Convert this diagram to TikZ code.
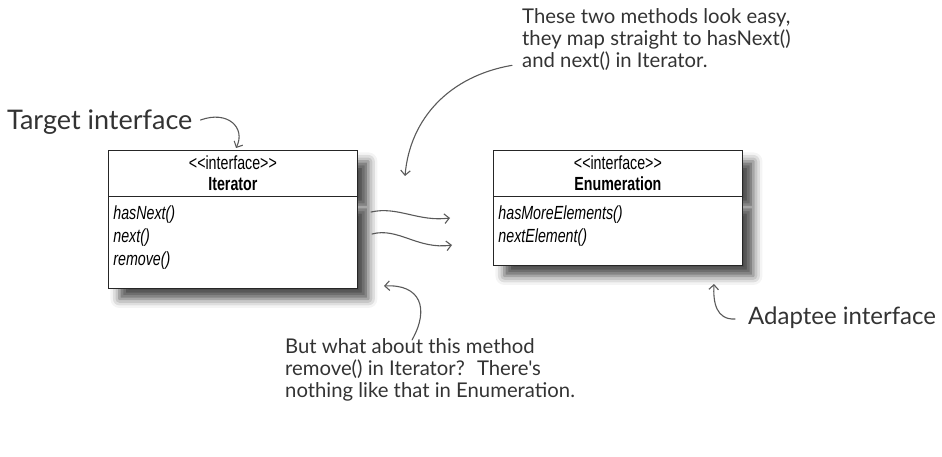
\documentclass[tikz,border=0pt]{standalone}
\usepackage{fontspec}
\setsansfont{Liberation Sans}[FakeStretch=0.75]
\newfontfamily\handfont{Lato}
\usetikzlibrary{arrows.meta,shapes.multipart,shadows.blur}

\newcommand{\firstrow}{\rule{0pt}{18pt}}
\newcommand{\lastrow}{\rule[-17pt]{0pt}{17pt}}
\newcommand{\stereo}{<\kern0pt<interface>\kern0pt>}
\newcommand{\midline}[1]{\makebox[239pt]{#1}}

\begin{document}
\begin{tikzpicture}[x=1pt,y=-1pt,>={Straight Barb[scale=1.3]},
    iface/.style={rectangle split,rectangle split parts=2,draw=black!85,line width=0.8pt,
      fill=white,text width=239pt,inner xsep=5pt,inner ysep=5pt,
      font=\sffamily\fontsize{19}{23}\selectfont,
      blur shadow={shadow xshift=11pt,shadow yshift=-11pt,shadow blur radius=9pt,shadow opacity=70}},
    note/.style={font=\handfont\fontsize{20.3}{22}\selectfont,text=black!80,align=left,inner sep=0pt},
    hand/.style={->,draw=black!65,line width=1.1pt,line cap=round}]

  \useasboundingbox (0,0) rectangle (942,457);

  \node[iface,anchor=north west] (iter) at (108,150)
    {\midline{\stereo}\\[-2pt] \midline{\textbf{Iterator}}
     \nodepart{two}\firstrow\textit{hasNext()}\\ \textit{next()}\\ \textit{remove()}\lastrow};
  \node[iface,anchor=north west] (enum) at (493,150)
    {\midline{\stereo}\\[-2pt] \midline{\textbf{Enumeration}}
     \nodepart{two}\firstrow\textit{hasMoreElements()}\\ \textit{nextElement()}\lastrow};

  \node[note,anchor=west,font=\handfont\fontsize{27}{28}\selectfont] (target) at (7,122) {Target interface};
  \node[note,anchor=north west] (twoMethods) at (522,8)
    {These two methods look easy,\\they map straight to hasNext()\\and next() in Iterator.};
  \node[note,anchor=north west] (removeNote) at (285,338)
    {But what about this method\\remove() in Iterator?~ There's\\nothing like that in Enumeration.};
  \node[note,anchor=west,font=\handfont\fontsize{24}{26}\selectfont] (adaptee) at (748,318) {Adaptee interface};

  % free ends of the hand drawn arrows
  \coordinate (iterTop) at (236,148);
  \coordinate (iterSide) at (405,176);
  \coordinate (hasNextOut) at (371,212);
  \coordinate (nextOut) at (372,234);
  \coordinate (hasMoreIn) at (450,218);
  \coordinate (nextElemIn) at (452,245);
  \coordinate (removeIn) at (384,286);
  \coordinate (enumBottom) at (714,284);

  \draw[hand] ([xshift=8pt,yshift=2pt]target.east) .. controls (228,110) and (246,128) .. (iterTop);
  \draw[hand] ([xshift=-10pt,yshift=5pt]twoMethods.south west) .. controls (450,76) and (410,118) .. (iterSide);
  \draw[hand] (hasNextOut) .. controls (398,206) and (418,222) .. (hasMoreIn);
  \draw[hand] (nextOut) .. controls (398,227) and (418,250) .. (nextElemIn);
  \draw[hand] ([xshift=127pt,yshift=-2pt]removeNote.north west) .. controls (430,308) and (420,284) .. (removeIn);
  \draw[hand] ([xshift=-13pt,yshift=-1pt]adaptee.west) .. controls (716,320) and (713,302) .. (enumBottom);
\end{tikzpicture}
\end{document}
